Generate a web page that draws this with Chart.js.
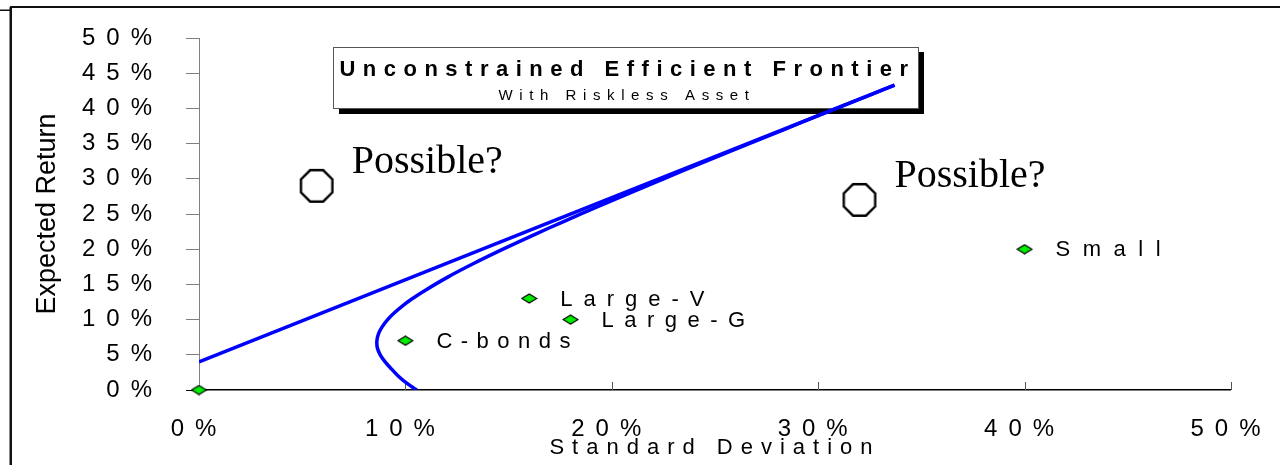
<!DOCTYPE html>
<html>
<head>
<meta charset="utf-8">
<script src="https://cdn.jsdelivr.net/npm/chart.js@4.4.1/dist/chart.umd.min.js"></script>
<style>
  html, body { margin: 0; padding: 0; background: #fff; overflow: hidden; }
  #wrap { position: relative; width: 1280px; height: 465px; }
</style>
</head>
<body>
<div id="wrap"><canvas id="c" width="1280" height="465"></canvas></div>
<script>
// Asset classes: standard deviation (%) and expected return (%)
const assetNames  = ['', 'C-bonds', 'Large-V', 'Large-G', 'Small'];
const assetRisk   = [0, 10, 16, 18, 40];
const assetReturn = [0, 7, 13, 10, 20];

// Portfolios lying above the frontier
const possibleNames  = ['Possible?', 'Possible?'];
const possibleRisk   = [5.7, 32];
const possibleReturn = [29, 27];

// Efficient frontier of the risky assets
const frontierRisk   = [10.55, 10.05, 9.65, 9.32, 9.02, 8.78, 8.64, 8.62, 8.70, 8.88, 9.14, 9.48, 9.88, 10.35, 10.87,
                        12.03, 13.33, 14.73, 16.20, 17.72, 19.29, 20.89, 22.51, 24.16, 25.82, 27.50, 29.19, 30.88, 32.59, 33.70];
const frontierReturn = [0, 1, 2, 3, 4, 5, 6, 7, 8, 9, 10, 11, 12, 13, 14,
                        16, 18, 20, 22, 24, 26, 28, 30, 32, 34, 36, 38, 40, 42, 43.3];

// Capital allocation line starting at the riskless asset
const calRisk   = [0, 33.7];
const calReturn = [4, 43.3];

// Axis ticks
const xTickValues = [0, 10, 20, 30, 40, 50];
const yTickValues = [0, 5, 10, 15, 20, 25, 30, 35, 40, 45, 50];

const chartTitle    = 'Unconstrained Efficient Frontier';
const chartSubtitle = 'With Riskless Asset';
const xAxisTitle    = 'Standard Deviation';
const yAxisTitle    = 'Expected Return';

const SANS  = '"Liberation Sans", Arial, Helvetica, sans-serif';
const SERIF = '"Liberation Serif", "Times New Roman", serif';

const pairs = (xs, ys) => xs.map((x, i) => ({ x, y: ys[i] }));

// Marker glyphs
const diamond = (() => {
  const c = document.createElement('canvas');
  c.width = 17; c.height = 11;
  const g = c.getContext('2d');
  g.beginPath();
  g.moveTo(1, 5.5); g.lineTo(8.5, 1); g.lineTo(16, 5.5); g.lineTo(8.5, 10); g.closePath();
  g.fillStyle = '#00ee00'; g.fill();
  g.lineWidth = 1.2; g.strokeStyle = '#000'; g.stroke();
  return c;
})();

const octagon = (() => {
  const c = document.createElement('canvas');
  c.width = 40; c.height = 40;
  const g = c.getContext('2d');
  g.beginPath();
  for (let k = 0; k < 8; k++) {
    const a = Math.PI / 8 + k * Math.PI / 4;
    const px = 20 + 17 * Math.cos(a), py = 20 + 17 * Math.sin(a);
    if (k === 0) g.moveTo(px, py); else g.lineTo(px, py);
  }
  g.closePath();
  g.fillStyle = '#fff'; g.fill();
  g.lineWidth = 2.4; g.strokeStyle = '#000'; g.stroke();
  return c;
})();

// Letter spacing for axis tick labels and titles
const axisSpacing = { x: { labels: 11, title: 8 }, y: { labels: 11, title: 0 } };
const spacingPlugin = {
  id: 'axisSpacing',
  beforeDraw(chart) {
    for (const id of Object.keys(axisSpacing)) {
      const s = chart.scales[id];
      if (!s || s._spaced) continue;
      const wrap = (name, px) => {
        const orig = s[name];
        s[name] = function (...args) {
          const ctx = this.ctx;
          const prev = ctx.letterSpacing;
          ctx.letterSpacing = px + 'px';
          orig.apply(this, args);
          ctx.letterSpacing = prev;
        };
      };
      wrap('drawLabels', axisSpacing[id].labels);
      wrap('drawTitle', axisSpacing[id].title);
      s._spaced = true;
    }
  }
};

// Page frame, title box and inward x tick marks
const decorPlugin = {
  id: 'decor',
  beforeDraw(chart) {
    const ctx = chart.ctx;
    ctx.save();
    ctx.fillStyle = '#fff';
    ctx.fillRect(0, 0, chart.width, chart.height);
    ctx.fillStyle = '#111';
    ctx.fillRect(10, 6, chart.width - 10, 2);
    ctx.fillRect(9.5, 7, 2.5, chart.height - 7);
    ctx.fillRect(0, 9.5, 10, 1.5);
    ctx.restore();
  },
  beforeDatasetsDraw(chart) {
    const ctx = chart.ctx;
    const xs = chart.scales.x;
    const area = chart.chartArea;
    ctx.save();
    // tick marks pointing into the plot
    ctx.strokeStyle = '#555';
    ctx.lineWidth = 1;
    xs.ticks.forEach(t => {
      if (t.value === 0) return;
      const px = Math.round(xs.getPixelForValue(t.value)) + 0.5;
      ctx.beginPath();
      ctx.moveTo(px, area.bottom);
      ctx.lineTo(px, area.bottom - 8);
      ctx.stroke();
    });
    // title box with drop shadow
    const bx = 333, by = 47, bw = 585, bh = 61;
    ctx.fillStyle = '#000';
    ctx.fillRect(bx + 6, by + bh, bw, 6);
    ctx.fillRect(bx + bw, by + 5, 6, bh + 1);
    ctx.fillStyle = '#fff';
    ctx.fillRect(bx, by, bw, bh);
    ctx.strokeStyle = '#555';
    ctx.lineWidth = 1;
    ctx.strokeRect(bx + 0.5, by + 0.5, bw, bh);
    ctx.fillStyle = '#000';
    ctx.textAlign = 'center';
    ctx.textBaseline = 'alphabetic';
    ctx.font = 'bold 22px ' + SANS;
    ctx.letterSpacing = '7.5px';
    ctx.fillText(chartTitle, 627.5, 76);
    ctx.font = '15px ' + SANS;
    ctx.letterSpacing = '6.6px';
    ctx.fillText(chartSubtitle, 627, 100);
    ctx.restore();
  }
};

// Text labels beside the markers
const labelSpacing = { 'C-bonds': 8.5, 'Large-V': 11, 'Large-G': 10.5, 'Small': 12.5 };
const labelPlugin = {
  id: 'pointLabels',
  afterDatasetsDraw(chart) {
    const ctx = chart.ctx;
    ctx.save();
    ctx.fillStyle = '#000';
    ctx.textAlign = 'left';
    // asset names
    ctx.font = '22px ' + SANS;
    ctx.textBaseline = 'middle';
    chart.getDatasetMeta(0).data.forEach((pt, i) => {
      const name = assetNames[i];
      if (!name) return;
      ctx.letterSpacing = (labelSpacing[name] || 10) + 'px';
      ctx.fillText(name, pt.x + 31, pt.y + 1);
    });
    // "Possible?" notes
    ctx.letterSpacing = '0px';
    ctx.font = '40px ' + SERIF;
    ctx.textBaseline = 'alphabetic';
    chart.getDatasetMeta(1).data.forEach((pt, i) => {
      ctx.fillText(possibleNames[i], pt.x + 35, pt.y - 13);
    });
    ctx.restore();
  }
};

new Chart(document.getElementById('c'), {
  type: 'scatter',
  data: {
    datasets: [
      {
        label: 'Assets',
        data: pairs(assetRisk, assetReturn),
        pointStyle: diamond,
        pointRadius: 7,
        showLine: false,
        clip: false
      },
      {
        label: 'Possible?',
        data: pairs(possibleRisk, possibleReturn),
        pointStyle: octagon,
        pointRadius: 17,
        showLine: false,
        clip: false
      },
      {
        label: 'Capital allocation line',
        data: pairs(calRisk, calReturn),
        showLine: true,
        borderColor: '#0000ff',
        borderWidth: 3.5,
        pointRadius: 0,
        fill: false
      },
      {
        label: 'Efficient frontier',
        data: pairs(frontierRisk, frontierReturn),
        showLine: true,
        borderColor: '#0000ff',
        borderWidth: 3.5,
        pointRadius: 0,
        tension: 0.4,
        fill: false
      }
    ]
  },
  options: {
    responsive: false,
    animation: false,
    devicePixelRatio: 1,
    layout: { padding: { left: 0, right: 48, top: 38, bottom: 0 } },
    plugins: {
      legend: { display: false },
      tooltip: { enabled: false }
    },
    scales: {
      x: {
        type: 'linear',
        position: 'bottom',
        min: 0, max: 50,
        afterBuildTicks: s => { s.ticks = xTickValues.map(v => ({ value: v })); },
        afterFit: s => { s.height = 75; },
        grid: { display: false, drawTicks: false },
        border: { display: true, color: '#000', width: 1.5 },
        ticks: {
          color: '#000',
          padding: 25,
          maxRotation: 0,
          font: { family: SANS, size: 24 },
          callback: v => v + '%'
        },
        title: {
          display: true,
          text: xAxisTitle,
          color: '#000',
          font: { family: SANS, size: 22 },
          padding: { top: 0, bottom: 4 }
        }
      },
      y: {
        type: 'linear',
        position: 'left',
        min: 0, max: 50,
        afterBuildTicks: s => { s.ticks = yTickValues.map(v => ({ value: v })); },
        afterFit: s => { s.width = 199; },
        grid: {
          display: true,
          drawOnChartArea: false,
          drawTicks: true,
          tickLength: 13,
          color: c => (c.tick && c.tick.value === 0 ? '#000' : '#808080'),
          lineWidth: 1
        },
        border: { display: true, color: '#808080', width: 1 },
        ticks: {
          color: '#000',
          padding: 23,
          font: { family: SANS, size: 24 },
          callback: v => v + '%'
        },
        title: {
          display: true,
          text: yAxisTitle,
          color: '#000',
          font: { family: SANS, size: 27 },
          padding: { top: 31, bottom: 0 }
        }
      }
    }
  },
  plugins: [spacingPlugin, decorPlugin, labelPlugin]
});
</script>
</body>
</html>
